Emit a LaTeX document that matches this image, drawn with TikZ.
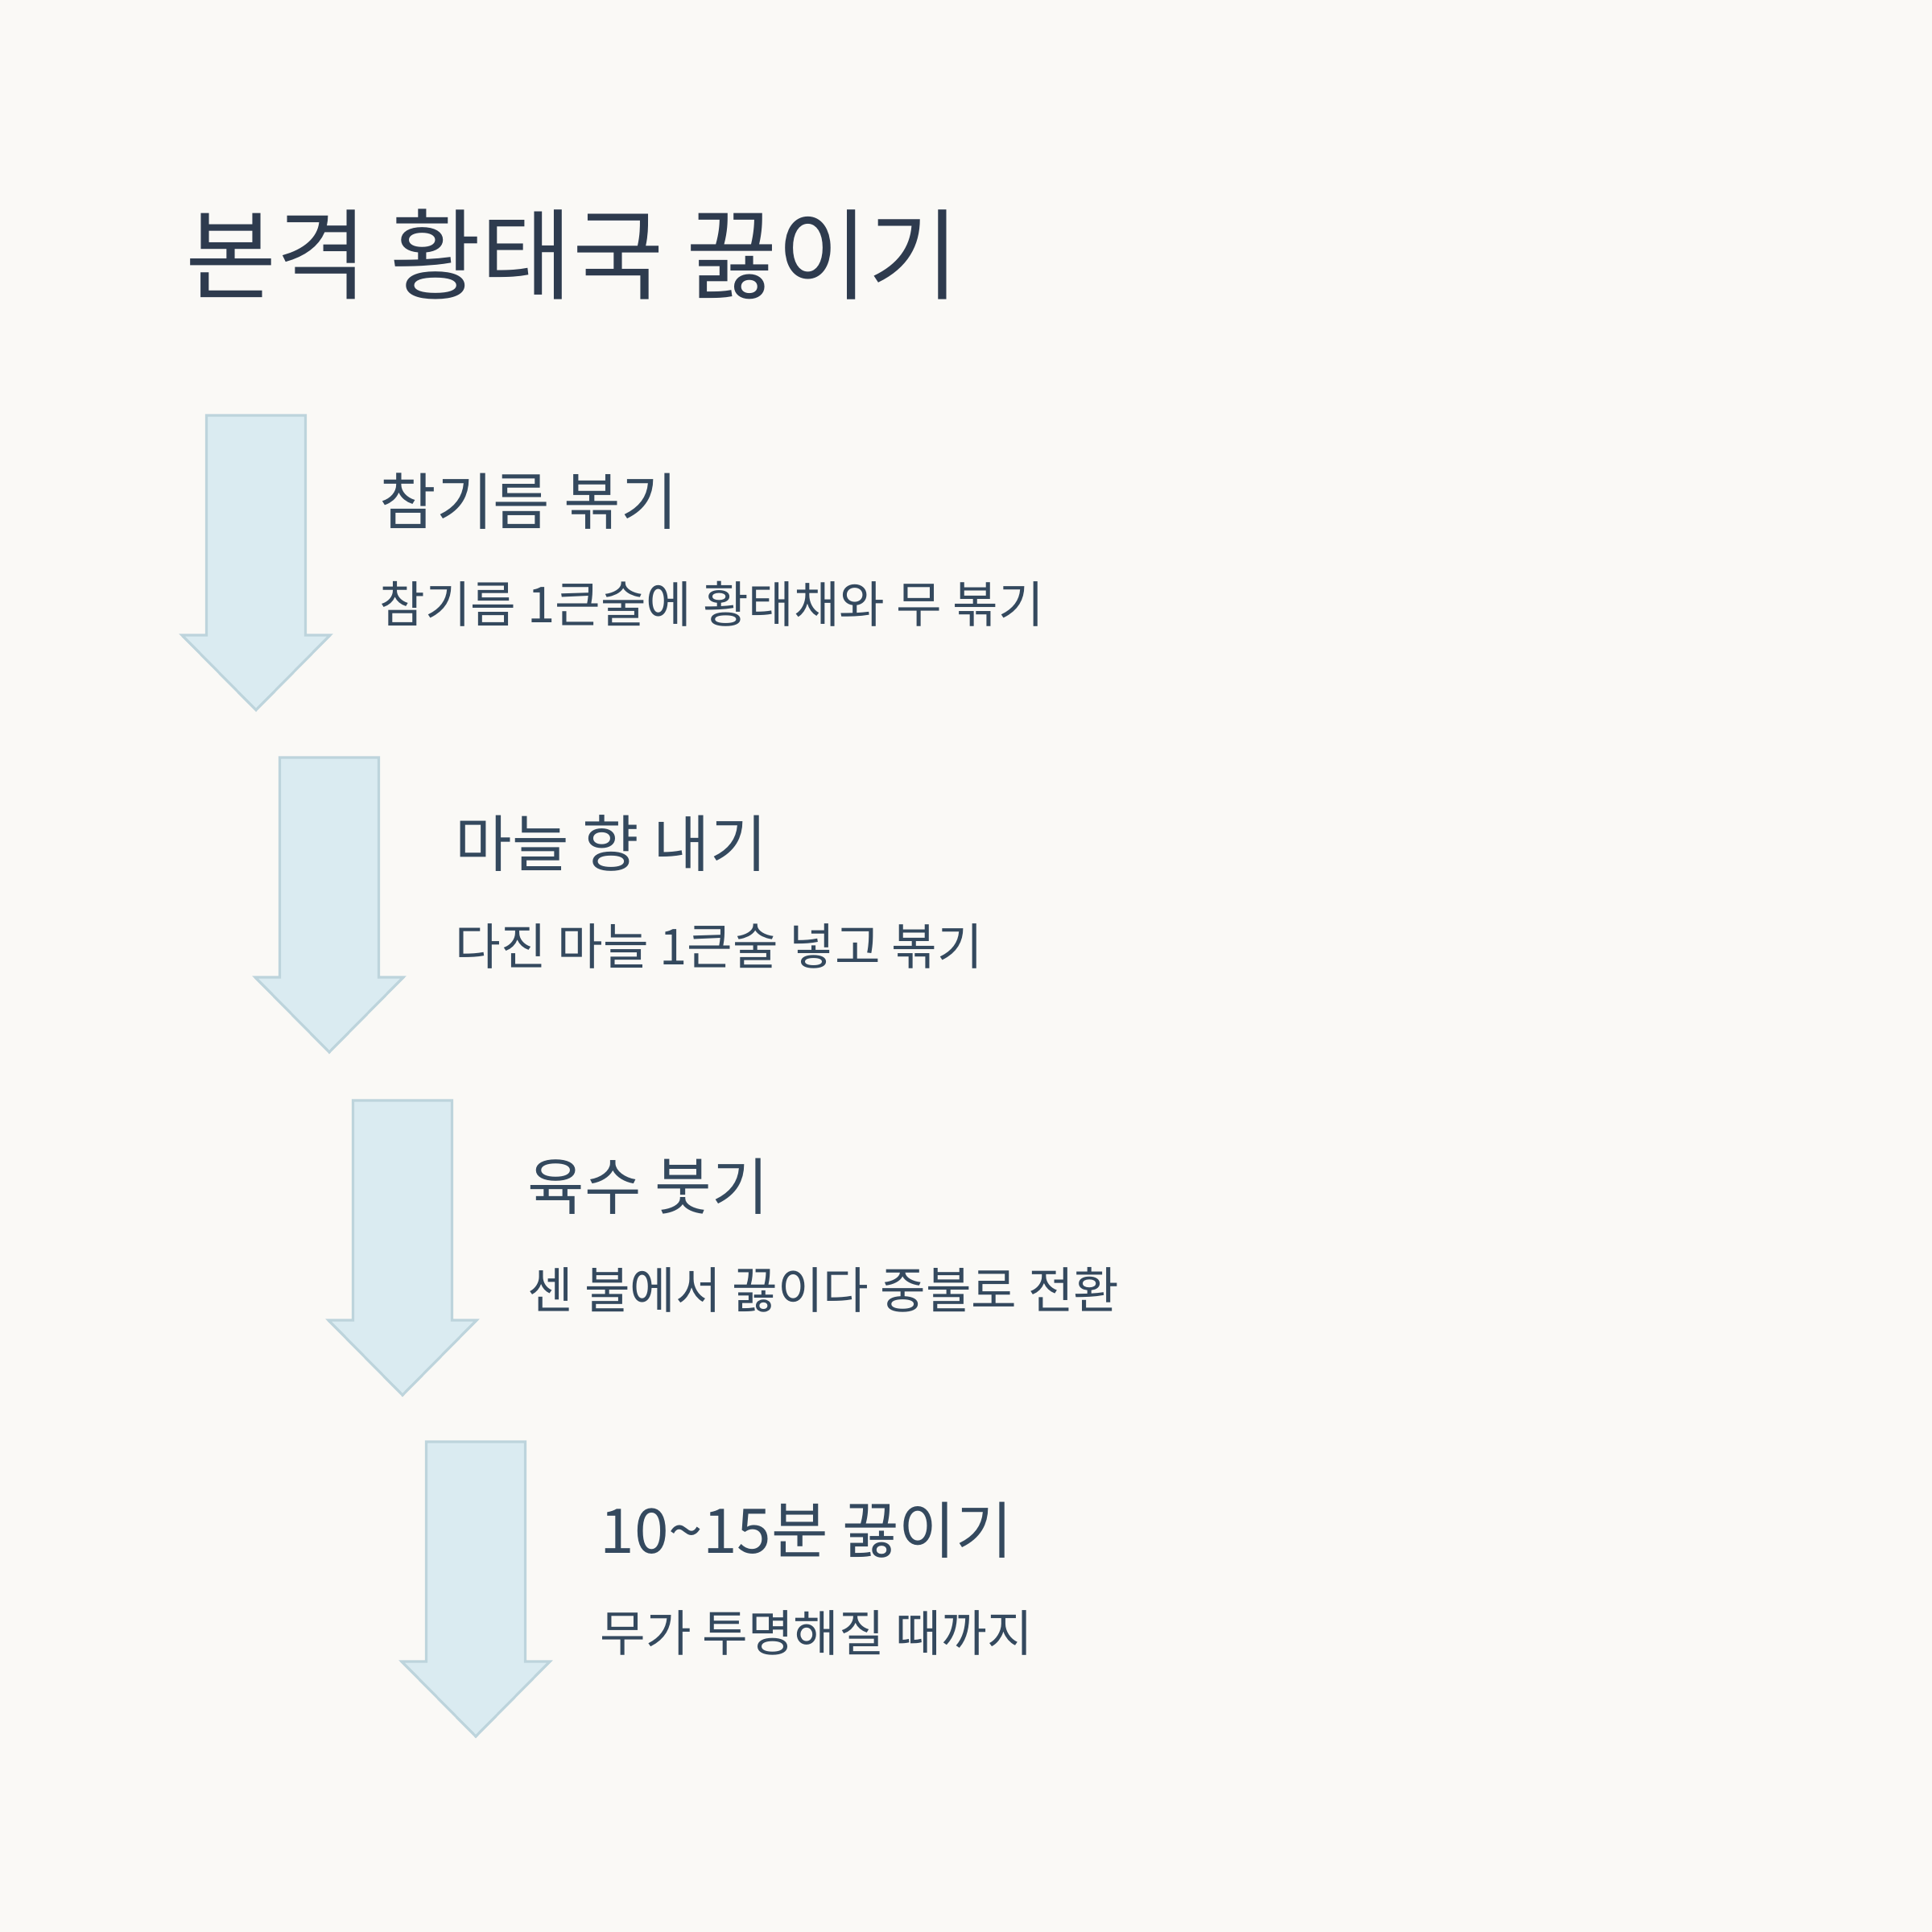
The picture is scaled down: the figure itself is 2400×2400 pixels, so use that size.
\documentclass[tikz,border=0pt]{standalone}
\usepackage{fontspec}
\usepackage{tikz}
\setmainfont{Noto Sans CJK KR}
\definecolor{soupPaper}{HTML}{FAF9F6}
\definecolor{soupBlue}{HTML}{DAEBF1}
\definecolor{soupEdge}{HTML}{BDD4DC}
\definecolor{soupSlate}{HTML}{2E3B4E}
\definecolor{soupInk}{HTML}{34495E}
\tikzset{
  ttl/.style={font=\fontsize{35}{41}\selectfont, text=soupSlate},
  hd/.style={font=\fontsize{21.8}{26}\selectfont, text=soupInk},
  sm/.style={font=\fontsize{17.5}{21}\selectfont, text=soupInk},
}
% arrow: name, x of centre, y of top
\newcommand{\stepArrow}[3]{%
  \draw[arrowbox] ({#2-61.5},{#3}) -- ({#2+61.5},{#3}) -- ({#2+61.5},{#3+273})
    -- ({#2+92},{#3+273}) -- ({#2},{#3+366}) -- ({#2-92},{#3+273})
    -- ({#2-61.5},{#3+273}) -- cycle;
  \coordinate (#1) at (#2,#3);}

\begin{document}
\begin{tikzpicture}[x=0.01cm, y=-0.01cm,
  arrowbox/.style={draw=soupEdge, fill=soupBlue, line width=0.9pt, line join=miter},
  txt/.style={anchor=west, inner sep=0pt}]
  \fill[soupPaper] (0,0) rectangle (2400,2400);
  \useasboundingbox (0,0) rectangle (2400,2400);
  \node[ttl, txt] (title) at (230,316) {본격 황태국 끓이기};

  \stepArrow{a1}{318}{516}
  \stepArrow{a2}{409}{941}
  \stepArrow{a3}{500}{1367}
  \stepArrow{a4}{591}{1791}

  \node[hd, txt] (h1) at (471,623)  {참기름 볶기};
  \node[sm, txt] (s1) at (471,750)  {참기름 1큰술에 황태채와 무 볶기};
  \node[hd, txt] (h2) at (565,1048) {마늘 향 내기};
  \node[sm, txt] (s2) at (565,1175) {다진 마늘 1큰술 넣고 볶기};
  \node[hd, txt] (h3) at (655,1474) {육수 붓기};
  \node[sm, txt] (s3) at (655,1602) {센 불에서 끓이다 중불로 전환};
  \node[hd, txt] (h4) at (745,1901) {10\textasciitilde15분 끓이기};
  \node[sm, txt] (s4) at (745,2028) {무가 투명해질 때까지};
\end{tikzpicture}
\end{document}
